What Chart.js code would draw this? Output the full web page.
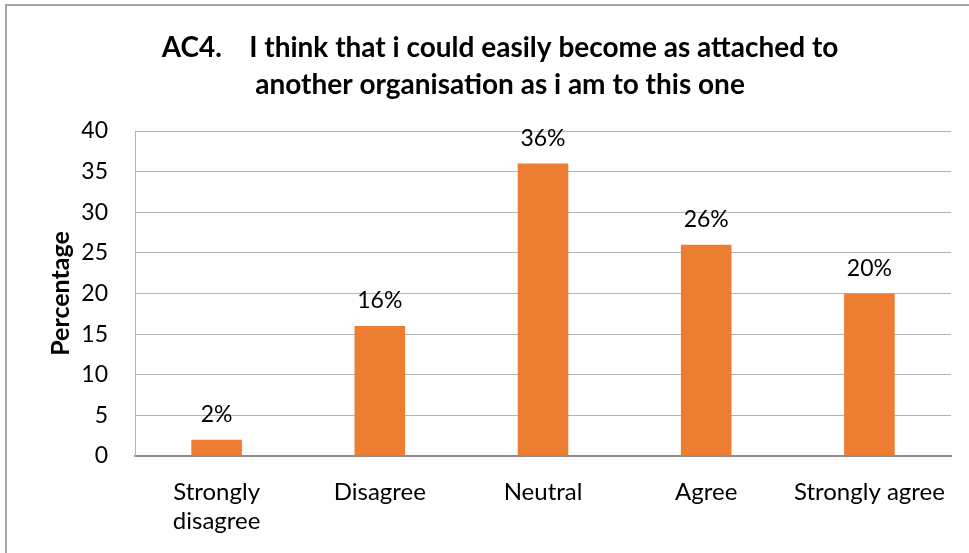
<!DOCTYPE html>
<html>
<head>
<meta charset="utf-8">
<script src="https://cdn.jsdelivr.net/npm/chart.js@4.4.1/dist/chart.umd.min.js"></script>
<style>
  html, body { margin: 0; padding: 0; background: #fff; overflow: hidden; }
  .wrap { position: relative; width: 969px; height: 553px; }
  .frame { position: absolute; left: 5px; top: 4px; width: 1000px; height: 600px; border: 2px solid #a6a6a6; }
  canvas { position: absolute; left: 0; top: 0; }
</style>
</head>
<body>
<div class="wrap">
  <div class="frame"></div>
  <canvas id="chart" width="969" height="553"></canvas>
</div>
<script>
const categories = [['Strongly', 'disagree'], 'Disagree', 'Neutral', 'Agree', 'Strongly agree'];
const percentages = [2, 16, 36, 26, 20];
const yTicks = [0, 5, 10, 15, 20, 25, 30, 35, 40];

const TITLE_LINES = ['AC4.    I think that i could easily become as attached to', 'another organisation as i am to this one'];
const FONT = 'Lato, "Liberation Sans", sans-serif';

// title and value labels drawn on top
const labelPlugin = {
  id: 'labels',
  afterDatasetsDraw(chart) {
    const ctx = chart.ctx;
    ctx.save();
    ctx.fillStyle = '#000';
    ctx.textAlign = 'center';
    ctx.textBaseline = 'middle';
    ctx.font = 'bold 28px ' + FONT;
    ctx.fillText(TITLE_LINES[0], 500, 48);
    ctx.fillText(TITLE_LINES[1], 500, 85);

    ctx.font = '23px ' + FONT;
    const meta = chart.getDatasetMeta(0);
    meta.data.forEach((bar, i) => {
      ctx.fillText(percentages[i] + '%', bar.x, bar.y - 25);
    });
    ctx.restore();
  },
};

new Chart(document.getElementById('chart').getContext('2d'), {
  type: 'bar',
  data: {
    labels: categories,
    datasets: [{
      data: percentages,
      backgroundColor: '#ed7d31',
      categoryPercentage: 1,
      barPercentage: 0.31,
    }],
  },
  options: {
    responsive: false,
    animation: false,
    devicePixelRatio: 1,
    layout: { padding: { left: 0, right: 18, top: 131, bottom: 0 } },
    plugins: {
      legend: { display: false },
      tooltip: { enabled: false },
    },
    scales: {
      x: {
        grid: { display: false, drawTicks: false },
        border: { display: true, color: '#8c8c8c', width: 2 },
        ticks: { color: '#000', font: { family: FONT, size: 24, lineHeight: 1.2 }, padding: 22, maxRotation: 0, autoSkip: false },
        afterFit: (s) => { s.height = 97; },
      },
      y: {
        min: 0,
        max: 40,
        afterBuildTicks: (s) => { s.ticks = yTicks.map((v) => ({ value: v })); },
        grid: { color: '#b3b3b3', drawTicks: false },
        border: { display: true, color: '#b3b3b3' },
        ticks: { color: '#000', font: { family: FONT, size: 23 }, padding: 27 },
        title: {
          display: true,
          text: 'Percentage',
          color: '#000',
          font: { family: FONT, size: 25, weight: 'bold' },
          padding: { top: 46, bottom: 0 },
        },
        afterFit: (s) => { s.width = 135; },
      },
    },
  },
  plugins: [labelPlugin],
});
</script>
</body>
</html>
